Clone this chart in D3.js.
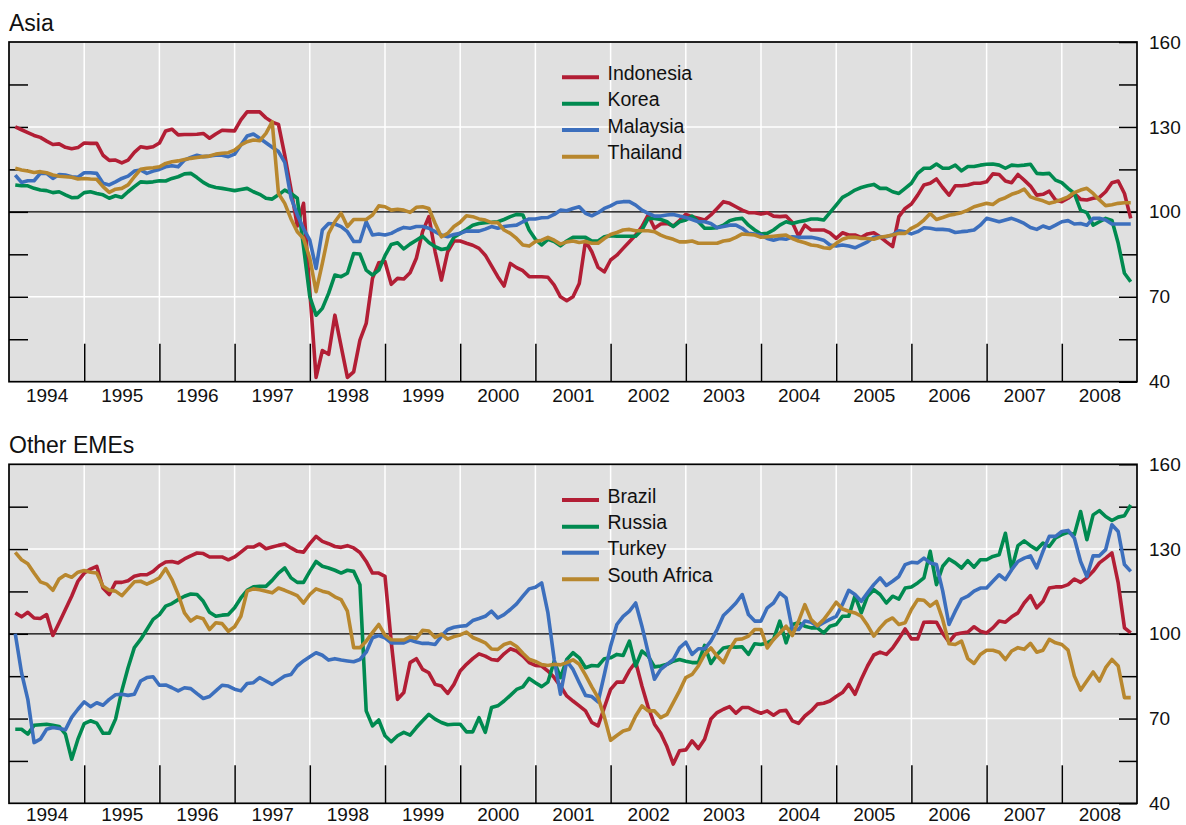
<!DOCTYPE html>
<html>
<head>
<meta charset="utf-8">
<script src="https://cdn.jsdelivr.net/npm/d3@7"></script>
<style>
  body { margin: 0; background: #fff; }
  svg text { font-family: "Liberation Sans", Arial, Helvetica, sans-serif; fill: #111; }
</style>
</head>
<body>
<svg id="chart" width="1186" height="825"></svg>
<script>
// Monthly index values, Feb 1994 .. Dec 2008 (one row per year)
const indonesia = [
  130, 129, 128, 127, 126.3, 125, 123.8, 124, 122.8, 122.3, 122.7,
  124.3, 124.2, 124.2, 120, 118.2, 118.3, 117.3, 118.3, 121, 123, 122.6, 123,
  124.3, 128.6, 129.2, 127.2, 127.3, 127.3, 127.4, 127.7, 126, 127.5, 128.8, 128.7,
  128.6, 132.5, 135.3, 135.3, 135.3, 133.2, 131.7, 130.9, 120, 108, 95, 103,
  72, 41.5, 51, 49.7, 63.5, 52.5, 41.5, 43.5, 54.7, 60.6, 76.5, 82,
  82.4, 74.4, 76.5, 76.3, 78.5, 83.6, 93, 98.3, 85.9, 75.9, 85.9, 89.7,
  89.7, 88.9, 88.2, 87.1, 84.7, 80.9, 77.1, 73.8, 81.8, 80.3, 79.2, 77.1,
  77.1, 77.1, 76.9, 74.1, 70, 68.6, 70, 74.7, 89.7, 85.9, 80.4, 78.8,
  83, 84.7, 87.1, 89.4, 91.8, 94.8, 98.9, 94.2, 95.7, 95.9, 95, 96.9,
  99.1, 98.3, 97.7, 97.1, 98.9, 101.2, 103.6, 103, 101.8, 100.6, 99.7, 99.7,
  99.2, 99.7, 98.5, 98.3, 98.5, 96.2, 91.4, 95.3, 93.6, 93.6, 93.6, 92.6,
  90.6, 92.6, 91.8, 91.8, 91, 92.2, 92.6, 91.2, 89.4, 87.7, 98.3, 101.2,
  102.8, 105.9, 109.5, 110.1, 111.6, 108.6, 105.9, 109.2, 109.2, 109.5, 110.1, 110.1,
  110.6, 113.4, 113.2, 110.9, 110.3, 113.2, 111.2, 109.1, 105.9, 106.2, 107.3, 104.2,
  103.6, 104.8, 106.5, 104.4, 104.2, 104.8, 105.1, 107.1, 110.3, 110.9, 106.5, 97.7
];
const korea = [
  109.5, 109.2, 109.2, 108.3, 107.7, 107.5, 106.8, 107.1, 106, 105, 105.1,
  106.8, 107.1, 106.5, 106, 104.8, 105.7, 105.1, 107.1, 108.9, 110.6, 110.4, 110.6,
  111, 110.9, 111.8, 112.4, 113.4, 113.6, 112.1, 110.4, 109.2, 108.6, 108.3, 107.9,
  107.5, 107.9, 108.3, 107.1, 106.2, 104.8, 104.5, 106, 107.7, 106.5, 104.8, 87.7,
  70, 63.5, 65.9, 71.2, 77.7, 77.1, 78.3, 85.3, 85.1, 79.4, 77.7, 79.4,
  84.5, 88.5, 89.1, 86.9, 88.6, 90, 91.4, 89.2, 87.7, 86.7, 87.1, 91,
  92.4, 93.8, 95.3, 95.9, 96.2, 96.3, 96.5, 97.3, 98.3, 99.1, 98.9, 93.6,
  90.3, 88.3, 90.3, 89.5, 88, 89.7, 91, 91, 91, 89.7, 89.7, 91.2,
  91.6, 91.4, 91.4, 91.4, 91.4, 93.6, 97.7, 97.7, 97.3, 96.5, 94.8, 96.5,
  97.1, 98.5, 96.5, 94.2, 94.2, 94.4, 95.3, 96.9, 97.5, 97.7, 95.3, 93.6,
  92.2, 92.4, 93.6, 95.3, 96.5, 95.9, 96.5, 96.9, 97.5, 97.5, 97.1, 99.7,
  102.4, 105.1, 106.3, 107.7, 108.6, 109.2, 109.7, 108.3, 108.3, 107.1, 106.5, 108.3,
  110.1, 113.6, 115.4, 115.4, 116.9, 115.4, 115.4, 116.5, 114.5, 116, 116, 116.5,
  116.8, 116.9, 116.5, 115.4, 116.5, 116.3, 116.5, 116.8, 113.6, 113.4, 113.6, 111.2,
  110.3, 108.3, 106.5, 100.6, 99.7, 95.3, 96.5, 97.7, 97, 88.9, 78.3, 75.3
];
const malaysia = [
  113, 110.4, 111, 111, 113.6, 113.6, 111.8, 113.2, 113, 112.4, 112.2,
  113.8, 113.8, 113.6, 110.1, 109.5, 110.6, 111.8, 112.6, 114.4, 114.8, 113.6, 114.4,
  115, 115.9, 116.3, 115.9, 118.3, 119.2, 120, 119.5, 119.7, 120, 120, 119.5,
  120.4, 123.6, 126.8, 127.5, 126, 124.4, 122.8, 121.3, 117.5, 105, 99, 94,
  90, 80, 93.6, 95.9, 95.7, 94.8, 93, 89.5, 89.5, 96.5, 91.8, 92.2,
  91.8, 92.4, 93.6, 94.5, 94.2, 94.8, 94.8, 94.2, 93, 91.8, 91.2, 92,
  92.4, 93.2, 93.2, 93.2, 93.9, 94.8, 94.2, 94.8, 95.1, 95.3, 96.5, 97.5,
  97.5, 97.9, 98, 99.1, 100.6, 100.4, 101.2, 101.8, 99.5, 98.6, 99.7, 101.2,
  102.1, 103.3, 103.6, 103.6, 102.4, 100.6, 99.5, 98.5, 98.5, 98.9, 99.1, 98.5,
  98, 97.3, 96.5, 96.5, 95.9, 94.4, 94.8, 95.3, 95.3, 94.2, 92.4, 92.2,
  91.8, 90.6, 90, 90.6, 90.3, 91.2, 91, 91, 91, 90.6, 90, 88.3,
  87.9, 88.3, 87.9, 87.3, 88.3, 89.4, 91, 91.2, 91.2, 91.8, 93.3, 93,
  92.2, 93, 94.4, 94.2, 93.8, 93.8, 93.6, 92.7, 93, 93.2, 93.6, 95.3,
  97.7, 97.1, 96.5, 97.1, 97.7, 96.9, 95.9, 94.5, 93.8, 95, 94.2, 95.3,
  96.5, 96.9, 95.7, 95.9, 95.3, 97.7, 97.7, 97.1, 95.7, 95.7, 95.7, 95.7
];
const thailand = [
  115.4, 114.8, 114.4, 113.9, 114.2, 113.8, 113, 112.6, 112.4, 112.2, 111.6,
  111.8, 111.6, 111.5, 108.9, 106.9, 108, 108.3, 109.5, 112.4, 115, 115.4, 115.6,
  115.9, 117.1, 117.7, 118, 118.5, 118.9, 119.2, 119.5, 119.7, 120.4, 120.7, 120.9,
  121.8, 123.6, 124.8, 125.4, 125.1, 127.7, 131.8, 106.5, 103, 97.5, 93, 90.6,
  83.6, 71.8, 81.8, 92.4, 96.5, 99.5, 94.8, 97.3, 97.3, 97.3, 98.9, 102.1,
  101.8, 100.6, 100.9, 100.6, 99.8, 101.6, 101.8, 101.2, 95.9, 91.2, 92.4, 94.8,
  96.3, 98.6, 98.3, 97.5, 97.1, 96.2, 96.2, 93.6, 92.4, 90.6, 88.3, 87.9,
  89.5, 90, 91, 90, 88.6, 89.4, 89.7, 89.2, 89.5, 88.9, 88.9, 90.6,
  92, 92.7, 93.6, 93.8, 93.3, 93.3, 93.3, 93, 91.8, 90.9, 90.3, 89.4,
  89.4, 89.7, 88.9, 88.9, 88.9, 88.9, 89.7, 90, 91, 92.2, 92, 91.8,
  91, 91.2, 91.4, 91.6, 91.8, 90.6, 89.7, 89.1, 88.3, 88, 87.3, 87.1,
  88.9, 90.3, 91, 91, 90.6, 90.6, 90.3, 91, 91.4, 91.8, 92.4, 92.4,
  94.2, 95.3, 97.1, 99.4, 97.3, 98, 98.8, 99.2, 99.7, 100.6, 101.8, 102.4,
  103, 102.6, 104.2, 105, 106.2, 106.9, 108, 105.3, 104.5, 103.9, 103, 103.6,
  104.4, 105.3, 106.8, 107.7, 108.3, 106.5, 104.2, 102.2, 102.5, 103, 103.2, 103.2
];
const brazil = [
  107.4, 106, 107.6, 105.6, 105.4, 106.8, 99.4, 103.9, 108.6, 113.3, 118.6,
  121.5, 122.9, 123.9, 116.2, 113.9, 118.2, 118.2, 118.8, 120.4, 120.9, 120.9, 122.1,
  124.1, 125.4, 125.6, 125.1, 126.5, 127.6, 128.6, 128.4, 127.2, 127.2, 127.2, 126.2,
  127.2, 128.9, 130.7, 130.7, 131.8, 130.1, 130.7, 131.3, 131.8, 130.4, 129.2, 128.9,
  131.9, 134.5, 132.7, 131.9, 130.9, 130.6, 131.2, 130.4, 128.8, 125.6, 121.5, 121.5,
  120.3, 97, 76.8, 79.2, 89.8, 91.2, 87.4, 86.2, 82.1, 81.5, 78.9, 82.1,
  86.8, 89.2, 91.2, 92.9, 92.1, 90.9, 90.6, 92.9, 94.7, 93.9, 92.1, 89.8,
  88.8, 88.6, 86.8, 84.5, 81.5, 78, 76.2, 74.5, 72.7, 68.6, 67.4, 73.9,
  80.3, 82.9, 82.9, 87, 90, 81.5, 74, 68, 64.8, 60, 53.9, 58.6,
  58.9, 62.1, 59.4, 62.7, 69.8, 72.1, 73.3, 74.2, 71.9, 73.9, 73.9, 72.7,
  71.9, 72.7, 71.2, 72.7, 72.9, 69.2, 68.3, 70.9, 72.7, 75.1, 75.4, 76.2,
  77.8, 79.2, 82.1, 78.6, 83.9, 88.6, 92.5, 93.5, 92.7, 95, 98.2, 101.7,
  98.2, 98.2, 104.1, 104.2, 104.1, 100.1, 97.1, 99.8, 100.3, 100.6, 102.5, 100.9,
  100.3, 102.1, 104.5, 104.1, 106, 107.4, 110.9, 113.5, 109.2, 111.5, 116.2, 116.6,
  116.6, 117.4, 119.4, 118.2, 119.8, 122.1, 125.1, 126.8, 128.6, 118, 102.1, 100.3
];
const russia = [
  66.2, 66.2, 64.5, 67.6, 67.8, 68, 67.6, 67.2, 64.5, 55.6, 62.7,
  68.2, 69.2, 68.4, 64.8, 64.8, 69.8, 79.8, 88, 95.1, 98, 101.5, 105.1,
  106.8, 109.8, 110.7, 112.1, 113.3, 114.1, 113.9, 111.5, 107.6, 106.2, 106.6, 106.8,
  109.2, 112.7, 115.4, 116.6, 116.8, 116.8, 118.9, 121.5, 123.3, 119.8, 118.2, 118.2,
  122.1, 125.6, 123.9, 123.3, 122.5, 121.5, 122.5, 122.1, 117.4, 72.7, 67.4, 69.5,
  63.9, 61.8, 63.9, 65.1, 64.1, 66.8, 69.2, 71.5, 69.8, 68.6, 67.8, 68,
  68, 65.3, 65.3, 70.3, 65.1, 73.9, 74.5, 76.2, 78.2, 80.3, 81.2, 84.2,
  82.7, 81.3, 82.9, 90.3, 84.5, 90.9, 93.3, 91.5, 88, 88.8, 88.6, 91.2,
  91.5, 92.7, 92.3, 97.4, 88.6, 93.9, 92.1, 88.3, 88.6, 89.2, 90.3, 90.9,
  90.3, 89.8, 89.8, 95.9, 89.5, 92.7, 95, 95.4, 95.3, 95.4, 92.7, 96.5,
  96.2, 96.8, 98, 104.5, 96.8, 103.3, 103.9, 102.7, 102.1, 102.1, 100.3, 102.7,
  103.3, 106.2, 106.2, 113.5, 107.4, 113.3, 115.6, 113.9, 110.9, 113.3, 112.3, 116.2,
  116.6, 118, 119.8, 129.2, 117.4, 123.9, 126.5, 125.1, 123.3, 125.9, 123.6, 126.2,
  126.2, 127.4, 128, 135.6, 122.9, 131.2, 132.9, 131.2, 129.8, 132.1, 130.9, 133.9,
  135.1, 135.9, 135.1, 143.3, 133.3, 142.1, 143.6, 141.5, 140.1, 141.3, 141.8, 145.6
];
const turkey = [
  100, 86.2, 76.8, 61.5, 62.7, 66.2, 66.8, 66.5, 66, 70.4, 73.3,
  75.9, 74.2, 75.6, 74.7, 76.8, 78.4, 78.6, 78.2, 78.6, 83.3, 84.5, 84.8,
  81.8, 81.9, 80.9, 79.8, 80.9, 80.6, 78.8, 77.1, 77.8, 79.8, 81.8, 81.5,
  80.4, 79.8, 82.4, 82.7, 84.5, 83.3, 82.1, 83.6, 85.1, 85.6, 88.6, 90.4,
  91.9, 93.3, 92.4, 90.7, 91.2, 90.7, 90.4, 90.1, 90.9, 93.5, 98.6, 99.4,
  98.6, 96.8, 96.8, 96.8, 97.8, 97.1, 96.6, 96.6, 96.2, 99.2, 101.5, 102.3,
  102.7, 102.9, 104.7, 105.4, 106.2, 108, 105.6, 106.8, 108.6, 110.6, 113.3, 115.9,
  116.5, 118, 107.4, 90.9, 78.6, 90.3, 87.4, 82.7, 78.2, 77.8, 75.9, 85.6,
  95.6, 103.3, 106.2, 108, 110.9, 102.7, 93.3, 83.9, 87.4, 89.2, 90.9, 95,
  97, 92.7, 94.7, 94.7, 97.4, 101.5, 106.5, 108.6, 110.9, 113.9, 106.8, 104.5,
  104.5, 109.2, 110.9, 114.5, 112.7, 101.5, 101.5, 104.5, 104.1, 102.7, 103.9, 105.1,
  106.2, 110.4, 115.4, 113.9, 111.5, 114.5, 117.4, 119.8, 117.1, 118.6, 120.3, 124.5,
  125.3, 125.1, 126.8, 125.1, 124.5, 115.1, 103.3, 108, 112.3, 113.3, 115.1, 116.2,
  116.2, 118.6, 120.9, 119.2, 122.7, 125.6, 126.8, 127.6, 123.3, 129.2, 134.5, 134.5,
  136.2, 136.6, 133.9, 125.6, 120.3, 127.6, 127.6, 129.8, 138.6, 136.2, 124.5, 122.1
];
const southAfrica = [
  128.8, 126.2, 124.8, 121.5, 118.4, 117.6, 115.4, 119.4, 120.9, 120, 121.8,
  122.4, 121.8, 121.5, 116.8, 115.4, 115.1, 113.5, 115.9, 118.4, 118.6, 117.6, 118.6,
  119.8, 123.1, 119.2, 113.9, 107.4, 104.5, 106, 105.3, 101.5, 103.9, 103.6, 100.9,
  102.5, 106.2, 115.1, 115.9, 115.6, 115.1, 114.5, 116.2, 115.4, 114.5, 113.5, 110.9,
  113.9, 115.9, 115.1, 114.5, 113.1, 112.1, 108, 95.1, 95.1, 97.4, 100.4, 103.3,
  99.5, 97.9, 97.8, 97.8, 98.9, 98.4, 101.2, 101, 98.7, 99.9, 98.1, 99,
  99.6, 100.6, 98.7, 97.8, 96.8, 94.6, 94.5, 96.2, 96.9, 95.5, 93.1, 91,
  90.2, 89.1, 88.8, 89.2, 89, 89.8, 90.8, 89.2, 85.4, 81.2, 77.4, 70.6,
  62.3, 64, 65.6, 66.2, 70.9, 74.5, 72.7, 72.7, 70.3, 71.5, 75.6, 79.8,
  84.5, 85.6, 88.6, 92.7, 95, 92.1, 89.8, 94.5, 98, 98.2, 99.2, 101.5,
  101.5, 95, 98, 100.3, 102.7, 99.4, 104.5, 110.3, 105, 102.9, 105, 108,
  111.2, 108.8, 108, 107.4, 106.2, 103, 99.2, 102.1, 104.5, 105.6, 103.3, 103.9,
  108.6, 112.1, 111.9, 109.8, 111.5, 105, 96.5, 96.2, 97.4, 91.2, 89.5, 92.7,
  94.2, 94.2, 93.5, 90.9, 93.9, 95.1, 94.5, 96.6, 93.5, 94.2, 98, 96.8,
  96.2, 94.2, 85.1, 80.1, 83.3, 86.5, 83.3, 88, 90.9, 88.6, 77.4, 77.4
];

const yearLabels = ["1994", "1995", "1996", "1997", "1998", "1999", "2000", "2001",
  "2002", "2003", "2004", "2005", "2006", "2007", "2008"];
const yTickLabels = [40, 70, 100, 130, 160];
const asiaNames = ["Indonesia", "Korea", "Malaysia", "Thailand"];
const otherNames = ["Brazil", "Russia", "Turkey", "South Africa"];
const colors = ["#b21e35", "#008a50", "#3c6fbd", "#b8872e"];

const svg = d3.select("#chart");
const X0 = 9, X1 = 1137;

const x = d3.scaleLinear().domain([1994, 2009]).range([X0, X1]);
const dateOf = i => 1994 + (i + 1) / 12;

drawPanel({ title: "Asia", top: 42, bottom: 381.7, titleY: 31, labelPad: 7,
  names: asiaNames, series: [indonesia, korea, malaysia, thailand],
  legendY: [77.3, 103.7, 130, 156.7] });
drawPanel({ title: "Other EMEs", top: 464.3, bottom: 803.3, titleY: 453, labelPad: 4,
  names: otherNames, series: [brazil, russia, turkey, southAfrica],
  legendY: [500, 526.7, 552.7, 579.3] });

function drawPanel(p) {
  const y = d3.scaleLinear().domain([40, 160]).range([p.bottom, p.top]);
  const g = svg.append("g");

  g.append("text")
    .attr("x", X0).attr("y", p.titleY)
    .attr("font-size", 23)
    .text(p.title);

  g.append("rect")
    .attr("x", X0).attr("y", p.top)
    .attr("width", X1 - X0).attr("height", p.bottom - p.top)
    .attr("fill", "#e0e0e0");

  // white grid
  g.append("g").selectAll("line")
    .data(d3.range(1995, 2009))
    .join("line")
    .attr("x1", d => x(d)).attr("x2", d => x(d))
    .attr("y1", p.top).attr("y2", p.bottom)
    .attr("stroke", "#fff").attr("stroke-width", 1.5);

  g.append("g").selectAll("line")
    .data([70, 130])
    .join("line")
    .attr("x1", X0).attr("x2", X1)
    .attr("y1", d => y(d)).attr("y2", d => y(d))
    .attr("stroke", "#fff").attr("stroke-width", 1.5);

  g.append("line")
    .attr("x1", X0).attr("x2", X1)
    .attr("y1", y(100)).attr("y2", y(100))
    .attr("stroke", "#000").attr("stroke-width", 1.3);

  // axes: inward ticks
  const tickVals = d3.range(40, 161, 15);
  const left = g.append("g")
    .attr("transform", `translate(${X0},0)`)
    .call(d3.axisLeft(y).tickValues(tickVals.slice(1, -1))
      .tickSizeInner(-19).tickSizeOuter(0).tickFormat(""));
  const right = g.append("g")
    .attr("transform", `translate(${X1},0)`)
    .call(d3.axisRight(y).tickValues(tickVals)
      .tickSizeInner(-18).tickSizeOuter(0).tickPadding(12)
      .tickFormat(d => yTickLabels.includes(d) ? d : ""));
  const bottomTicks = g.append("g")
    .attr("transform", `translate(0,${p.bottom})`)
    .call(d3.axisBottom(x).tickValues(d3.range(1995, 2009))
      .tickSizeInner(-38).tickSizeOuter(0).tickFormat(""));
  const bottomLabels = g.append("g")
    .attr("transform", `translate(0,${p.bottom})`)
    .call(d3.axisBottom(x).tickValues(yearLabels.map(d => +d + 0.5))
      .tickSize(0).tickPadding(p.labelPad).tickFormat((d, i) => yearLabels[i]));

  [left, right, bottomTicks, bottomLabels].forEach(a => {
    a.select(".domain").remove();
    a.selectAll(".tick line").attr("stroke", "#000").attr("stroke-width", 1.5);
    a.attr("font-size", 19).attr("font-family", null);
    a.selectAll("text").attr("fill", "#111");
  });

  // series
  const line = d3.line()
    .x((d, i) => x(dateOf(i)))
    .y(d => y(d));

  g.append("g").selectAll("path")
    .data(p.series)
    .join("path")
    .attr("d", d => line(d))
    .attr("fill", "none")
    .attr("stroke", (d, i) => colors[i])
    .attr("stroke-width", 3.6)
    .attr("stroke-linejoin", "round");

  // legend
  const lg = g.append("g").selectAll("g")
    .data(p.names)
    .join("g");
  lg.append("line")
    .attr("x1", 562).attr("x2", 599)
    .attr("y1", (d, i) => p.legendY[i]).attr("y2", (d, i) => p.legendY[i])
    .attr("stroke", (d, i) => colors[i]).attr("stroke-width", 4);
  lg.append("text")
    .attr("x", 607.5)
    .attr("y", (d, i) => p.legendY[i] + 2.5)
    .attr("font-size", 19.5)
    .text(d => d);

  g.append("rect")
    .attr("x", X0).attr("y", p.top)
    .attr("width", X1 - X0).attr("height", p.bottom - p.top)
    .attr("fill", "none")
    .attr("stroke", "#000").attr("stroke-width", 1.7);
}
</script>
</body>
</html>
